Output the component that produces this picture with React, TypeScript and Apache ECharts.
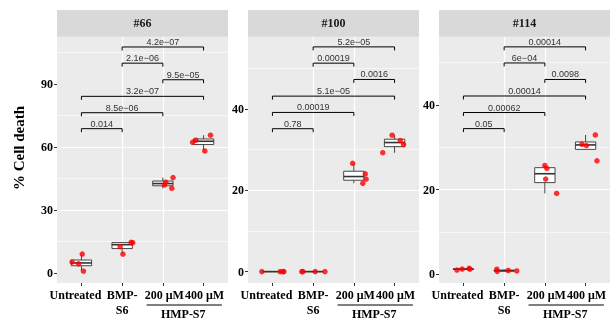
import React, { useEffect, useRef } from "react";
import * as echarts from "echarts";

const categories = ["Untreated", "BMP-\nS6", "200 μM", "400 μM"];
const panelTitles = ["#66", "#100", "#114"];
const groupLabel = "HMP-S7";
const yTitle = "% Cell death";

// cell death values per category (4 replicates each)
const values66 = [
  [9.0, 5.2, 4.3, 0.8],
  [14.4, 12.5, 8.9, 14.6],
  [45.4, 43.2, 41.9, 40.3],
  [65.6, 63.2, 62.2, 58.1],
];
const values100 = [
  [0, 0, 0, 0],
  [0, 0, 0, 0],
  [26.6, 24.0, 22.7, 21.7],
  [33.5, 32.2, 31.2, 29.2],
];
const values114 = [
  [1.0, 1.25, 1.4, 1.2],
  [1.2, 0.7, 0.9, 0.8],
  [25.7, 25.0, 22.5, 19.1],
  [32.9, 30.7, 30.4, 26.8],
];

// horizontal jitter of each point (category units)
const jitter66 = [
  [0.02, -0.23, -0.07, 0.05],
  [0.26, -0.05, 0.02, 0.22],
  [0.25, 0.07, 0.04, 0.22],
  [0.17, -0.19, -0.27, 0.03],
];
const jitter100 = [
  [-0.26, 0.19, 0.26, 0.28],
  [-0.28, -0.25, 0.05, 0.29],
  [-0.03, 0.28, 0.3, 0.22],
  [-0.06, 0.14, 0.22, -0.29],
];
const jitter114 = [
  [-0.16, -0.03, 0.14, 0.16],
  [-0.18, -0.17, 0.1, 0.31],
  [0.0, 0.05, 0.02, 0.29],
  [0.24, -0.09, 0.02, 0.28],
];

// comparisons (pairs of category indices) and their bracket heights / p-values
const comparePairs = [
  [0, 1],
  [0, 2],
  [0, 3],
  [2, 3],
  [1, 2],
  [1, 3],
];
const bracketY66 = [68.7, 76.3, 84.1, 92.0, 99.9, 107.6];
const bracketY100 = [35.1, 39.1, 43.1, 47.2, 51.2, 55.2];
const bracketY114 = [34.4, 38.2, 42.1, 46.0, 49.9, 53.7];
const pLabels66 = ["0.014", "8.5e−06", "3.2e−07", "9.5e−05", "2.1e−06", "4.2e−07"];
const pLabels100 = ["0.78", "0.00019", "5.1e−05", "0.0016", "0.00019", "5.2e−05"];
const pLabels114 = ["0.05", "0.00062", "0.00014", "0.0098", "6e−04", "0.00014"];

// y-axis ranges and tick steps
const yRanges = [
  [-4.8, 112.5],
  [-2.8, 57.7],
  [-2.05, 56.1],
];
const yTickSteps = [30, 20, 20];
const yTickValues = [
  [0, 30, 60, 90],
  [0, 20, 40],
  [0, 20, 40],
];

const panels = [
  { values: values66, jitter: jitter66, brY: bracketY66, pl: pLabels66 },
  { values: values100, jitter: jitter100, brY: bracketY100, pl: pLabels100 },
  { values: values114, jitter: jitter114, brY: bracketY114, pl: pLabels114 },
];

function quantile(sorted: number[], p: number) {
  const h = (sorted.length - 1) * p;
  const lo = Math.floor(h);
  const hi = Math.min(lo + 1, sorted.length - 1);
  return sorted[lo] + (h - lo) * (sorted[hi] - sorted[lo]);
}

function boxStats(vals: number[]) {
  const s = [...vals].sort((a, b) => a - b);
  const q1 = quantile(s, 0.25);
  const md = quantile(s, 0.5);
  const q3 = quantile(s, 0.75);
  const iqr = q3 - q1;
  const inside = s.filter((v) => v >= q1 - 1.5 * iqr - 1e-9 && v <= q3 + 1.5 * iqr + 1e-9);
  const lo = Math.min(inside[0], q1);
  const hi = Math.max(inside[inside.length - 1], q3);
  return [lo, q1, md, q3, hi];
}

const GRID_LEFTS = [57, 248, 439];
const GRID_W = 171;
const GRID_TOP = 36.7;
const GRID_H = 246.3;
const STRIP_TOP = 10;
const LABEL_DX = [-6, 0, 1.5, 1];
const SERIF = '"Liberation Serif", "DejaVu Serif", serif';
const SANS = '"Liberation Sans", Arial, sans-serif';

export default function App() {
  const ref = useRef<HTMLDivElement>(null);

  useEffect(() => {
    if (!ref.current) return;
    const chart = echarts.init(ref.current, undefined, { renderer: "svg" });

    const grids: any[] = [];
    const xAxes: any[] = [];
    const yAxes: any[] = [];
    const series: any[] = [];

    panels.forEach((pn, i) => {
      grids.push({
        left: GRID_LEFTS[i],
        top: GRID_TOP,
        width: GRID_W,
        height: GRID_H,
        show: true,
        backgroundColor: "#EBEBEB",
        borderWidth: 0,
        containLabel: false,
      });
      xAxes.push({
        type: "value",
        gridIndex: i,
        position: "bottom",
        min: -0.6,
        max: 3.6,
        minInterval: 1,
        maxInterval: 1,
        axisLine: { show: false, onZero: false },
        axisTick: { show: true, length: 3, lineStyle: { color: "#333", width: 1 }, customValues: [0, 1, 2, 3] },
        axisLabel: { show: false },
        splitLine: { show: true, showMinLine: false, showMaxLine: false, lineStyle: { color: "#fff", width: 1.2 } },
      });
      yAxes.push({
        type: "value",
        gridIndex: i,
        position: "left",
        min: yRanges[i][0],
        max: yRanges[i][1],
        minInterval: yTickSteps[i],
        maxInterval: yTickSteps[i],
        axisLine: { show: false, onZero: false },
        axisTick: { show: true, length: 3, lineStyle: { color: "#333", width: 1 }, customValues: yTickValues[i] },
        axisLabel: {
          customValues: yTickValues[i],
          showMinLabel: true,
          showMaxLabel: true,
          color: "#000",
          fontFamily: SERIF,
          fontWeight: "bold",
          fontSize: 12,
          margin: 4,
        },
        splitLine: { show: true, showMinLine: false, showMaxLine: false, lineStyle: { color: "#fff", width: 1.2 } },
        minorTick: { show: false, splitNumber: 2 },
        minorSplitLine: { show: true, lineStyle: { color: "#fff", width: 0.6 } },
      });

      const boxData = pn.values.map((vals, c) => [c, ...boxStats(vals)]);
      series.push({
        type: "custom",
        xAxisIndex: i,
        yAxisIndex: i,
        z: 2,
        encode: { x: 0, y: [1, 2, 3, 4, 5] },
        data: boxData,
        renderItem: (params: any, api: any) => {
          const x = api.value(0);
          const pLo = api.coord([x, api.value(1)]);
          const pQ1 = api.coord([x, api.value(2)]);
          const pMd = api.coord([x, api.value(3)]);
          const pQ3 = api.coord([x, api.value(4)]);
          const pHi = api.coord([x, api.value(5)]);
          const hw = api.size([0.5, 0])[0] / 2;
          const cx = pLo[0];
          const st = { stroke: "#333", lineWidth: 0.9 };
          return {
            type: "group",
            children: [
              { type: "line", shape: { x1: cx, y1: pHi[1], x2: cx, y2: pQ3[1] }, style: st },
              { type: "line", shape: { x1: cx, y1: pQ1[1], x2: cx, y2: pLo[1] }, style: st },
              {
                type: "rect",
                shape: { x: cx - hw, y: pQ3[1], width: 2 * hw, height: Math.max(pQ1[1] - pQ3[1], 0) },
                style: { fill: "#fff", stroke: "#333", lineWidth: 0.9 },
              },
              { type: "line", shape: { x1: cx - hw, y1: pMd[1], x2: cx + hw, y2: pMd[1] }, style: { stroke: "#333", lineWidth: 1.6 } },
            ],
          };
        },
      });

      const pts: number[][] = [];
      pn.values.forEach((vals, c) => vals.forEach((v, k) => pts.push([c + pn.jitter[c][k], v])));
      series.push({
        type: "scatter",
        xAxisIndex: i,
        yAxisIndex: i,
        z: 3,
        symbol: "circle",
        symbolSize: 5.5,
        itemStyle: { color: "#FF0000" },
        data: pts,
      });

      const brData = comparePairs.map((pr, k) => [pr[0], pr[1], pn.brY[k]]);
      const labels = pn.pl;
      series.push({
        type: "custom",
        xAxisIndex: i,
        yAxisIndex: i,
        z: 4,
        encode: { x: [0, 1], y: 2 },
        data: brData,
        renderItem: (params: any, api: any) => {
          const p1 = api.coord([api.value(0), api.value(2)]);
          const p2 = api.coord([api.value(1), api.value(2)]);
          const tip = 3.5;
          return {
            type: "group",
            children: [
              {
                type: "polyline",
                shape: { points: [[p1[0], p1[1] + tip], [p1[0], p1[1]], [p2[0], p2[1]], [p2[0], p2[1] + tip]] },
                style: { stroke: "#000", lineWidth: 1, fill: "none" },
              },
              {
                type: "text",
                x: (p1[0] + p2[0]) / 2,
                y: p1[1] - 0.5,
                style: {
                  text: labels[params.dataIndex],
                  fill: "#333",
                  fontSize: 9,
                  fontFamily: SANS,
                  align: "center",
                  verticalAlign: "bottom",
                },
              },
            ],
          };
        },
      });
    });

    chart.setOption({
      animation: false,
      grid: grids,
      xAxis: xAxes,
      yAxis: yAxes,
      series,
    });

    const graphics: any[] = [
      {
        type: "text",
        x: 19,
        y: 148,
        rotation: Math.PI / 2,
        style: {
          text: yTitle,
          fill: "#000",
          fontFamily: SERIF,
          fontWeight: "bold",
          fontSize: 15,
          align: "center",
          verticalAlign: "middle",
        },
      },
    ];
    panels.forEach((_, i) => {
      graphics.push({
        type: "rect",
        shape: { x: GRID_LEFTS[i], y: STRIP_TOP, width: GRID_W, height: GRID_TOP - STRIP_TOP },
        style: { fill: "#D9D9D9" },
        silent: true,
      });
      graphics.push({
        type: "text",
        x: GRID_LEFTS[i] + GRID_W / 2,
        y: (STRIP_TOP + GRID_TOP) / 2,
        style: {
          text: panelTitles[i],
          fill: "#1A1A1A",
          fontFamily: SERIF,
          fontWeight: "bold",
          fontSize: 12,
          align: "center",
          verticalAlign: "middle",
        },
      });
      categories.forEach((cat, c) => {
        const cx = chart.convertToPixel({ xAxisIndex: i }, c) as number;
        graphics.push({
          type: "text",
          x: cx + LABEL_DX[c],
          y: GRID_TOP + GRID_H + 4,
          style: {
            text: cat,
            fill: "#000",
            fontFamily: SERIF,
            fontWeight: "bold",
            fontSize: 12,
            lineHeight: 15,
            align: "center",
            verticalAlign: "top",
          },
        });
      });
      const xa = chart.convertToPixel({ xAxisIndex: i }, 1.6) as number;
      const xb = chart.convertToPixel({ xAxisIndex: i }, 3.45) as number;
      const xm = chart.convertToPixel({ xAxisIndex: i }, 2.5) as number;
      graphics.push({
        type: "line",
        shape: { x1: xa, y1: 305, x2: xb, y2: 305 },
        style: { stroke: "#000", lineWidth: 1 },
      });
      graphics.push({
        type: "text",
        x: xm,
        y: 308,
        style: {
          text: groupLabel,
          fill: "#000",
          fontFamily: SERIF,
          fontWeight: "bold",
          fontSize: 12,
          align: "center",
          verticalAlign: "top",
        },
      });
    });
    chart.setOption({ graphic: graphics });

    return () => chart.dispose();
  }, []);

  return <div ref={ref} style={{ position: "fixed", left: 0, top: 0, width: 610, height: 320 }} />;
}
